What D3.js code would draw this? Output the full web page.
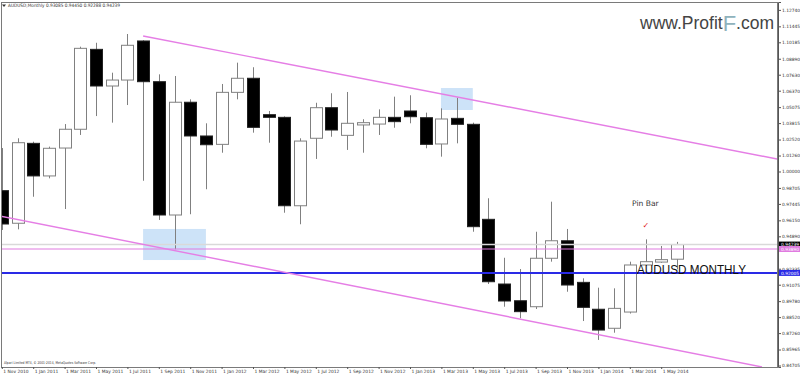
<!DOCTYPE html>
<html><head><meta charset="utf-8">
<script src="https://cdn.jsdelivr.net/npm/d3@7"></script>
<style>html,body{margin:0;padding:0;background:#fff;}svg{display:block}</style>
</head><body>
<svg id="c" width="800" height="375"></svg>
<script>
// ---------- data ----------
const months = ["1 Nov 2010","1 Dec 2010","1 Jan 2011","1 Feb 2011","1 Mar 2011","1 Apr 2011","1 May 2011","1 Jun 2011","1 Jul 2011","1 Aug 2011","1 Sep 2011","1 Oct 2011","1 Nov 2011","1 Dec 2011","1 Jan 2012","1 Feb 2012","1 Mar 2012","1 Apr 2012","1 May 2012","1 Jun 2012","1 Jul 2012","1 Aug 2012","1 Sep 2012","1 Oct 2012","1 Nov 2012","1 Dec 2012","1 Jan 2013","1 Feb 2013","1 Mar 2013","1 Apr 2013","1 May 2013","1 Jun 2013","1 Jul 2013","1 Aug 2013","1 Sep 2013","1 Oct 2013","1 Nov 2013","1 Dec 2013","1 Jan 2014","1 Feb 2014","1 Mar 2014","1 Apr 2014","1 May 2014","1 Jun 2014"];
const open  = [0.9849,0.9592,1.0222,0.9965,1.0185,1.0333,1.0963,1.0674,1.0721,1.1029,1.0708,0.9657,1.0546,1.0280,1.0214,1.0624,1.0735,1.0448,1.0427,0.9730,1.0262,1.0503,1.0285,1.0367,1.0374,1.0427,1.0477,1.0424,1.0217,1.0419,1.0372,0.9623,0.9113,0.8981,0.8934,0.9316,0.9454,0.9126,0.8914,0.8764,0.8892,0.9263,0.9286,0.93085];
const high  = [1.0185,1.0262,1.0235,1.0196,1.0374,1.0984,1.1015,1.0779,1.1084,1.1035,1.0766,1.0753,1.0569,1.0380,1.0690,1.0858,1.0822,1.0477,1.0435,1.0262,1.0542,1.0617,1.0627,1.0412,1.0490,1.0590,1.0601,1.0464,1.0498,1.0582,1.0385,0.9789,0.9320,0.9231,0.9525,0.9762,0.9547,0.9158,0.9084,0.9079,0.9289,0.9465,0.9413,0.94450];
const low   = [0.9539,0.9544,0.9801,0.9946,0.9704,1.0288,1.0437,1.0385,1.0524,0.9927,0.9618,0.9387,0.9663,0.9860,1.0148,1.0569,1.0306,1.0227,0.9675,0.9584,1.0099,1.0274,1.0170,1.0148,1.0288,1.0345,1.0380,1.0183,1.0117,1.0222,0.9525,0.9113,0.8934,0.8843,0.8916,0.9289,0.9052,0.8821,0.8672,0.8729,0.8880,0.9255,0.9280,0.92288];
const close = [0.9586,1.0227,0.9965,1.0183,1.0333,1.0971,1.0674,1.0721,1.0995,1.0708,0.9657,1.0546,1.0280,1.0211,1.0624,1.0735,1.0348,1.0427,0.9730,1.0240,1.0503,1.0327,1.0380,1.0385,1.0427,1.0393,1.0432,1.0214,1.0414,1.0372,0.9565,0.9131,0.8979,0.8895,0.9316,0.9454,0.9105,0.8929,0.8750,0.8921,0.9263,0.9289,0.9305,0.94239];
const xTickLabels = ["1 Nov 2010","1 Jan 2011","1 Mar 2011","1 May 2011","1 Jul 2011","1 Sep 2011","1 Nov 2011","1 Jan 2012","1 Mar 2012","1 May 2012","1 Jul 2012","1 Sep 2012","1 Nov 2012","1 Jan 2013","1 Mar 2013","1 May 2013","1 Jul 2013","1 Sep 2013","1 Nov 2013","1 Jan 2014","1 Mar 2014","1 May 2014"];
const priceTicks = [1.12740,1.11445,1.10185,1.08890,1.07630,1.06370,1.05075,1.03815,1.02520,1.01260,1.00000,0.98705,0.97445,0.96150,0.94890,0.92335,0.91075,0.89780,0.88520,0.87260,0.85965,0.84705];
const bidLevel = 0.94239, pinkLevel = 0.93890, blueLevel = 0.92005;
const upperTrend = [[9, 1.10683],[49.38, 1.00986]];
const lowerTrend = [[-0.115, 0.96492],[48.42, 0.84587]];
const zones = [{i0:9.0,i1:13.0,p0:0.9547,p1:0.9302},{i0:27.97,i1:30.0,p0:1.0658,p1:1.0485}];
const titleText = "AUDUSD,Monthly  0.93085 0.94450 0.92288 0.94239";

// ---------- layout ----------
const L = 1, R = 778, T = 2, B = 367;
const svg = d3.select("#c");
const x = d3.scaleLinear().domain([0, 43]).range([1.8, 676.9]);
const y = d3.scaleLinear().domain([0.84587, 1.13363]).range([B, T]);
const bw = 12;

svg.append("defs").append("clipPath").attr("id","clip")
  .append("rect").attr("x",L).attr("y",T).attr("width",R-L).attr("height",B-T);

const plot = svg.append("g").attr("clip-path","url(#clip)");

// zones
plot.selectAll("rect.zone").data(zones).join("rect").attr("class","zone")
  .attr("x",d=>x(d.i0)).attr("width",d=>x(d.i1)-x(d.i0))
  .attr("y",d=>y(d.p0)).attr("height",d=>y(d.p1)-y(d.p0))
  .attr("fill","#cde3f8");

// candles
const idx = d3.range(months.length);
const cg = plot.append("g");
cg.selectAll("line.wick").data(idx).join("line")
  .attr("x1",i=>Math.round(x(i))+0.5).attr("x2",i=>Math.round(x(i))+0.5)
  .attr("y1",i=>y(high[i])).attr("y2",i=>y(low[i]))
  .attr("stroke","#808080").attr("stroke-width",1);
cg.selectAll("rect.body").data(idx).join("rect")
  .attr("x",i=>Math.round(x(i))-bw/2+0.5).attr("width",bw)
  .attr("y",i=>y(Math.max(open[i],close[i])))
  .attr("height",i=>Math.max(1,Math.abs(y(open[i])-y(close[i]))))
  .attr("fill",i=>close[i]>=open[i]?"#fff":"#000")
  .attr("stroke",i=>close[i]>=open[i]?"#808080":"#222").attr("stroke-width",1);

// horizontal levels
plot.append("line").attr("x1",L).attr("x2",R).attr("y1",y(bidLevel)).attr("y2",y(bidLevel))
  .attr("stroke","#d9d9d9").attr("stroke-width",1.5);
plot.append("line").attr("x1",L).attr("x2",R).attr("y1",y(pinkLevel)).attr("y2",y(pinkLevel))
  .attr("stroke","#e07be0").attr("stroke-width",1.2);
plot.append("line").attr("x1",L).attr("x2",R).attr("y1",y(blueLevel)).attr("y2",y(blueLevel))
  .attr("stroke","#2a2ae6").attr("stroke-width",2);

// trendlines
const ln = d3.line().x(d=>x(d[0])).y(d=>y(d[1]));
[upperTrend, lowerTrend].forEach(t=>{
  plot.append("path").attr("d",ln(t)).attr("fill","none")
    .attr("stroke","#e57ee5").attr("stroke-width",1.4);
});

// annotations
plot.append("text").attr("x",x(40.14)).attr("y",y(0.9728))
  .attr("font-family","DejaVu Sans").attr("font-size",7.6).attr("fill","#333").text("Pin Bar");
plot.append("text").attr("x",x(41.03)).attr("y",y(0.95743)+3).attr("text-anchor","middle")
  .attr("font-family","DejaVu Sans").attr("font-size",8).attr("fill","#e01010").text("✓");
plot.append("text").attr("x",x(40.46)).attr("y",y(0.91919))
  .attr("font-family","Liberation Sans").attr("font-size",13.5).attr("fill","#111")
  .attr("textLength",109).attr("lengthAdjust","spacingAndGlyphs").text("AUDUSD  MONTHLY");

// frame
svg.append("rect").attr("x",L+0.5).attr("y",T+0.5).attr("width",R-L-1).attr("height",B-T)
  .attr("fill","none").attr("stroke","#7a7a7a").attr("stroke-width",1);

// right axis
const ay = svg.append("g").attr("transform",`translate(${R},0)`)
  .call(d3.axisRight(y).tickValues(priceTicks).tickFormat(d3.format(".5f")).tickSize(3).tickPadding(1));
ay.select(".domain").attr("stroke","#555");
ay.selectAll(".tick line").attr("stroke","#555");
ay.selectAll("text").attr("font-family","DejaVu Sans").attr("font-size",4.4).attr("fill","#333");

// bottom axis
const ax = svg.append("g").attr("transform",`translate(0,${B})`)
  .call(d3.axisBottom(x).tickValues(xTickLabels.map(s=>months.indexOf(s)))
    .tickFormat(i=>months[i]).tickSize(2).tickPadding(1));
ax.select(".domain").remove();
ax.selectAll(".tick line").attr("stroke","#555");
ax.selectAll("text").attr("font-family","DejaVu Sans").attr("font-size",4.4).attr("fill","#333")
  .attr("text-anchor","start").attr("dx",1);

// price label boxes
const boxes = [{p:bidLevel,c:"#000",t:"0.94239"},{p:pinkLevel,c:"#e07be0",t:d3.format(".5f")(pinkLevel)},{p:blueLevel,c:"#2a2ae6",t:"0.92005"}];
const bg = svg.append("g");
boxes.forEach(b=>{
  bg.append("rect").attr("x",R+1).attr("y",y(b.p)-3).attr("width",21).attr("height",6).attr("fill",b.c);
  bg.append("text").attr("x",R+3).attr("y",y(b.p)+1.6).attr("font-family","DejaVu Sans")
    .attr("font-size",4.4).attr("fill","#fff").text(b.t);
});

// title
svg.append("path").attr("d","M2,4.5 L6,4.5 L4,7 Z").attr("fill","#333");
svg.append("text").attr("x",8).attr("y",7.3).attr("font-family","DejaVu Sans").attr("font-size",4.6)
  .attr("fill","#333").attr("textLength",112).attr("lengthAdjust","spacingAndGlyphs").text(titleText);

// copyright
svg.append("text").attr("x",4).attr("y",363.5).attr("font-family","DejaVu Sans").attr("font-size",3.8)
  .attr("fill","#333").attr("textLength",92).attr("lengthAdjust","spacingAndGlyphs")
  .text("Alpari Limited MT4, © 2001-2014, MetaQuotes Software Corp.");

// logo (single text element with tspans)
const logo = svg.append("text").attr("x",640).attr("y",28.5)
  .attr("font-family","Liberation Sans").attr("font-size",17.5).attr("fill","#444");
logo.append("tspan").text("www.Profit");
logo.append("tspan").attr("font-size",22).attr("fill","#8fb2bc").attr("dy",2.5).text("F");
logo.append("tspan").attr("dy",-2.5).text(".com");
</script>
</body></html>
